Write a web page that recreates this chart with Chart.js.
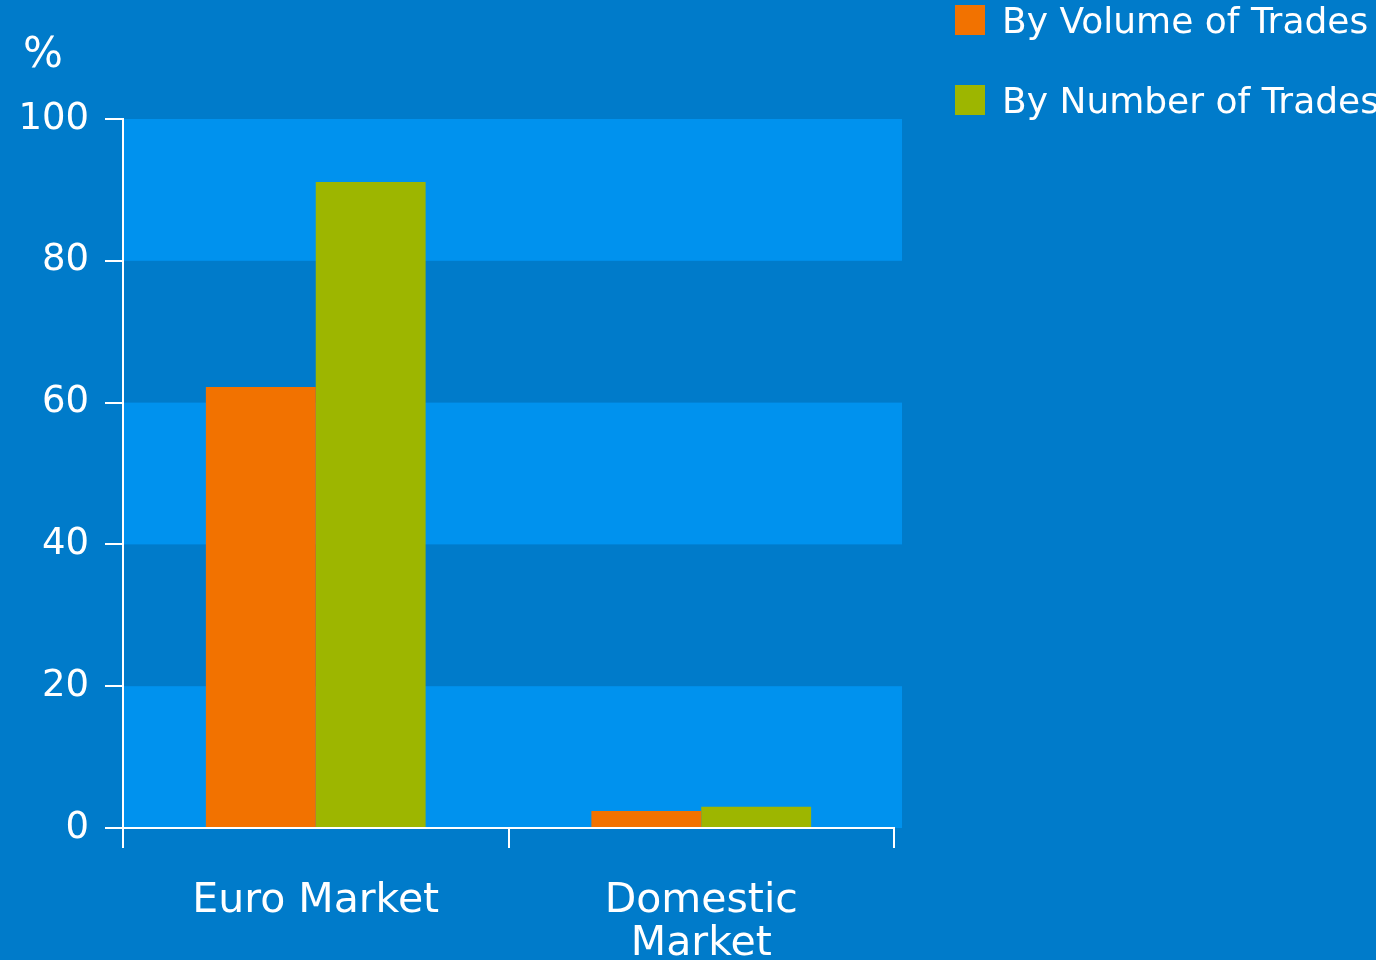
<!DOCTYPE html>
<html>
<head>
<meta charset="utf-8">
<script src="https://cdn.jsdelivr.net/npm/chart.js@4/dist/chart.umd.min.js"></script>
<style>
  html, body { margin: 0; padding: 0; background: #007bca; }
  #wrap { width: 1376px; height: 960px; }
</style>
</head>
<body>
<div id="wrap"><canvas id="Trades-Chart"></canvas></div>
<script>
const labels = ["Euro Market", ["Domestic", "Market"]];
const seriesNames = ["By Volume of Trades", "By Number of Trades"];
const byVolume = [62.2, 2.4];
const byNumber = [91.1, 3.0];
const yTicks = [0, 20, 40, 60, 80, 100];

const bg = "#007bca";
const band = "#0092ee";
const colors = ["#f27200", "#9db600"];
const font = "DejaVu Sans";

// striped plot background + page fill
const bandsPlugin = {
  id: "bands",
  beforeDraw(chart) {
    const { ctx, chartArea, scales } = chart;
    ctx.save();
    ctx.fillStyle = bg;
    ctx.fillRect(0, 0, chart.width, chart.height);
    ctx.fillStyle = band;
    for (let i = 0; i < yTicks.length - 1; i += 2) {
      const y1 = scales.y.getPixelForValue(yTicks[i]);
      const y2 = scales.y.getPixelForValue(yTicks[i + 1]);
      ctx.fillRect(chartArea.left, y2, chartArea.right - chartArea.left + 8, y1 - y2);
    }
    ctx.restore();
  },
};

// "%" unit and the legend in the top right
const extrasPlugin = {
  id: "extras",
  afterDraw(chart) {
    const { ctx } = chart;
    ctx.save();
    ctx.fillStyle = "#ffffff";
    ctx.textBaseline = "middle";
    ctx.textAlign = "left";
    ctx.font = "42px '" + font + "'";
    ctx.fillText("%", 23, 56);
    ctx.font = "36px '" + font + "'";
    chart.data.datasets.forEach((ds, i) => {
      const y = 5 + i * 80;
      ctx.fillStyle = ds.backgroundColor;
      ctx.fillRect(955, y, 30, 30);
      ctx.fillStyle = "#ffffff";
      ctx.fillText(ds.label, 1002, y + 19);
    });
    ctx.restore();
  },
};

const data = {
  labels: labels,
  datasets: [
    { label: seriesNames[0], data: byVolume, backgroundColor: colors[0] },
    { label: seriesNames[1], data: byNumber, backgroundColor: colors[1] },
  ],
};

const config = {
  type: "bar",
  data: data,
  options: {
    responsive: true,
    maintainAspectRatio: false,
    animation: false,
    layout: { padding: { top: 119, right: 482, left: 0, bottom: 0 } },
    datasets: {
      bar: { categoryPercentage: 0.57, barPercentage: 1.0, borderWidth: 0 },
    },
    plugins: {
      legend: { display: false },
      tooltip: { enabled: false },
    },
    scales: {
      x: {
        afterFit: (s) => { s.height = 132; },
        grid: {
          display: true,
          offset: true,
          drawOnChartArea: false,
          color: "#ffffff",
          lineWidth: 2,
          tickLength: 20,
        },
        border: { color: "#ffffff", width: 2 },
        ticks: {
          color: "#ffffff",
          padding: 31,
          font: { family: font, size: 41, lineHeight: 1.07 },
          maxRotation: 0,
        },
      },
      y: {
        min: 0,
        max: 100,
        afterFit: (s) => { s.width = 123; },
        afterBuildTicks: (s) => { s.ticks = yTicks.map((v) => ({ value: v })); },
        grid: {
          display: true,
          drawOnChartArea: false,
          color: "#ffffff",
          lineWidth: 2,
          tickLength: 18,
        },
        border: { color: "#ffffff", width: 2 },
        ticks: {
          color: "#ffffff",
          padding: 16,
          font: { family: font, size: 37 },
        },
      },
    },
  },
  plugins: [bandsPlugin, extrasPlugin],
};

let myChart = new Chart(document.getElementById("Trades-Chart"), config);
</script>
</body>
</html>
